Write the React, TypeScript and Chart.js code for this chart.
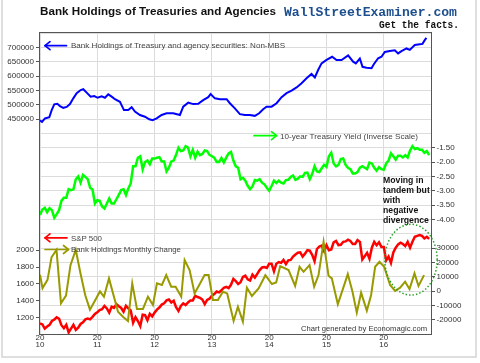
import React, { useEffect, useRef } from 'react';
import { Chart, registerables } from 'chart.js';

Chart.register(...registerables);

// ---------------- data ----------------
// Bank holdings of Treasury and agency securities: Non-MBS (left, top panel)
const blueDates = [
  2010.0, 2010.035, 2010.087, 2010.162, 2010.204, 2010.249, 2010.302, 2010.349, 2010.406, 2010.466,
  2010.523, 2010.581, 2010.64, 2010.71, 2010.755, 2010.815, 2010.884, 2010.947, 2011.006, 2011.076,
  2011.134, 2011.191, 2011.251, 2011.308, 2011.395, 2011.465, 2011.54, 2011.6, 2011.657, 2011.744,
  2011.832, 2011.907, 2011.966, 2012.036, 2012.123, 2012.21, 2012.325, 2012.442, 2012.5, 2012.587,
  2012.674, 2012.761, 2012.848, 2012.936, 2012.978, 2013.053, 2013.14, 2013.257, 2013.314, 2013.401,
  2013.489, 2013.576, 2013.663, 2013.75, 2013.825, 2013.895, 2013.954, 2014.042, 2014.129, 2014.216,
  2014.303, 2014.39, 2014.478, 2014.565, 2014.652, 2014.739, 2014.797, 2014.854, 2014.914, 2015.001,
  2015.099, 2015.175, 2015.263, 2015.378, 2015.465, 2015.512, 2015.582, 2015.629, 2015.699, 2015.786,
  2015.826, 2015.901, 2015.96, 2016.018, 2016.105, 2016.192, 2016.25, 2016.309, 2016.396, 2016.454,
  2016.541, 2016.628, 2016.675, 2016.715, 2016.744,
];
const blueValues = [
  445000, 440000, 452000, 456000, 481000, 501000, 503000, 495000, 489000, 492000,
  502000, 522000, 540000, 551000, 554000, 542000, 528000, 530000, 524000, 529000,
  524000, 536000, 528000, 519000, 510000, 481000, 481000, 491000, 476000, 464000,
  458000, 449000, 446000, 452000, 464000, 470000, 470000, 464000, 493000, 507000,
  502000, 503000, 516000, 526000, 537000, 522000, 519000, 519000, 505000, 487000,
  467000, 464000, 464000, 461000, 470000, 484000, 493000, 493000, 505000, 526000,
  540000, 549000, 560000, 575000, 592000, 607000, 595000, 621000, 644000, 656000,
  667000, 656000, 656000, 672000, 650000, 644000, 661000, 632000, 629000, 627000,
  641000, 662000, 667000, 684000, 687000, 690000, 679000, 687000, 696000, 691000,
  708000, 711000, 712000, 725000, 733000,
];

// 10-year Treasury yield, semi-monthly from Jan 2010 (plotted inverted)
const yield2010 = [3.85, 3.66, 3.6, 3.75, 3.61, 3.68, 3.95, 3.82, 3.68, 3.35, 3.25, 3.25, 2.95, 2.98, 2.95, 2.6, 2.5, 2.72, 2.45, 2.52, 2.6, 2.9, 2.96, 3.45];
const yield2011 = [3.33, 3.35, 3.55, 3.62, 3.45, 3.27, 3.45, 3.45, 3.3, 3.15, 2.98, 2.95, 3.15, 2.92, 2.75, 2.15, 2.15, 1.85, 1.8, 2.25, 2.0, 1.95, 2.08, 1.88];
const yield2012 = [1.88, 1.85, 1.83, 1.98, 1.98, 2.33, 2.2, 1.98, 1.95, 1.75, 1.5, 1.62, 1.6, 1.45, 1.5, 1.8, 1.58, 1.85, 1.64, 1.76, 1.72, 1.6, 1.62, 1.75];
const yield2013 = [1.8, 1.85, 2.0, 2.0, 1.86, 2.02, 1.85, 1.7, 1.65, 1.95, 2.15, 2.2, 2.6, 2.55, 2.65, 2.83, 2.95, 2.85, 2.63, 2.65, 2.6, 2.72, 2.78, 2.9];
const yield2014 = [3.0, 2.84, 2.65, 2.73, 2.65, 2.72, 2.75, 2.63, 2.62, 2.52, 2.47, 2.62, 2.58, 2.5, 2.52, 2.38, 2.37, 2.6, 2.42, 2.15, 2.33, 2.35, 2.22, 2.1];
const yield2015 = [2.17, 1.8, 1.68, 2.05, 2.15, 2.1, 1.9, 1.88, 2.1, 2.2, 2.25, 2.4, 2.4, 2.35, 2.2, 2.15, 2.2, 2.25, 2.02, 2.05, 2.2, 2.3, 2.18, 2.25];
const yield2016 = [2.27, 2.05, 1.95, 1.7, 1.8, 1.92, 1.78, 1.78, 1.84, 1.76, 1.84, 1.6, 1.45, 1.55, 1.52, 1.57, 1.57, 1.68, 1.62, 1.76];

// S&P 500, semi-monthly from Jan 2010
const spx2010 = [1133, 1120, 1070, 1095, 1115, 1160, 1178, 1205, 1187, 1110, 1075, 1115, 1025, 1070, 1115, 1055, 1080, 1125, 1145, 1180, 1190, 1180, 1210, 1243];
const spx2011 = [1265, 1290, 1300, 1340, 1310, 1260, 1330, 1315, 1360, 1335, 1315, 1270, 1340, 1310, 1285, 1140, 1205, 1160, 1100, 1235, 1230, 1170, 1245, 1215];
const spx2012 = [1260, 1295, 1320, 1355, 1370, 1405, 1415, 1380, 1400, 1325, 1280, 1340, 1370, 1350, 1380, 1405, 1405, 1460, 1445, 1435, 1415, 1360, 1410, 1425];
const spx2013 = [1460, 1480, 1510, 1500, 1525, 1555, 1565, 1550, 1590, 1660, 1635, 1600, 1620, 1685, 1700, 1655, 1640, 1710, 1675, 1720, 1765, 1795, 1800, 1790];
const spx2014 = [1840, 1840, 1750, 1840, 1860, 1850, 1885, 1835, 1880, 1885, 1925, 1950, 1970, 1975, 1925, 1960, 2002, 1995, 1945, 1870, 2015, 2045, 2055, 1990];
const spx2015 = [2060, 2000, 2010, 2095, 2110, 2060, 2065, 2100, 2105, 2125, 2110, 2075, 2075, 2120, 2100, 1890, 1930, 1970, 1900, 2030, 2100, 2060, 2095, 2040];
const spx2016 = [2040, 1880, 1925, 1850, 1975, 2030, 2070, 2090, 2075, 2050, 2100, 2030, 2100, 2160, 2170, 2180, 2170, 2140, 2160, 2135];

// Bank holdings monthly change (right, bottom panel)
const changeDates = [
  2010.0, 2010.044, 2010.131, 2010.201, 2010.288, 2010.366, 2010.454, 2010.532, 2010.624, 2010.708,
  2010.79, 2010.872, 2011.047, 2011.116, 2011.204, 2011.361, 2011.448, 2011.535, 2011.61, 2011.692,
  2011.797, 2011.884, 2011.971, 2012.041, 2012.128, 2012.203, 2012.29, 2012.367, 2012.465, 2012.524,
  2012.611, 2012.698, 2012.786, 2012.873, 2012.943, 2013.018, 2013.105, 2013.192, 2013.267, 2013.379,
  2013.454, 2013.541, 2013.611, 2013.698, 2013.815, 2013.933, 2014.047, 2014.122, 2014.192, 2014.338,
  2014.453, 2014.53, 2014.6, 2014.704, 2014.785, 2014.861, 2014.949, 2015.036, 2015.093, 2015.198,
  2015.372, 2015.454, 2015.529, 2015.604, 2015.704, 2015.779, 2015.849, 2015.925, 2016.006, 2016.11,
  2016.198, 2016.285, 2016.372, 2016.449, 2016.536, 2016.606, 2016.703,
];
const changeValues = [
  11300, 2000, 7800, 23500, 28700, -8500, -3200, 18000, 28700, 12000,
  -3000, -13000, -300, -4000, 8800, -14400, -18000, -20900, 5300, -12500,
  -12500, -4000, -9800, 5300, 4200, 11100, 3000, 3000, -4000, 21600,
  14600, -1700, 4700, 11100, 11100, -6300, -6300, -500, -1700, -20900,
  -11000, -21400, 2300, -3500, 1800, 11000, 4900, 6000, 17400, 14600,
  3500, 16900, 13400, 18100, 3000, 11100, 34400, 10700, 8800, -9300,
  11800, -500, -15100, -1200, -13700, -2800, 16900, 20400, 16900, 4200,
  0, 2300, 6500, 1400, 12300, 3500, 11100,
];

// axis ticks
const xTickYears = [2010, 2011, 2012, 2013, 2014, 2015, 2016];
const blueTicks = [450000, 500000, 550000, 600000, 650000, 700000];
const yieldTicks = [-4, -3.5, -3, -2.5, -2, -1.5];
const spxTicks = [1200, 1400, 1600, 1800, 2000];
const changeTicks = [-20000, -10000, 0, 10000, 20000, 30000];

// ---------------- styling ----------------
const FONT = "'Liberation Sans', Arial, sans-serif";
const GRID = '#dcdcdc';
const AXIS = '#555555';
const TXT = '#333333';

const gridSteps: number[] = [];
for (let v = -300000; v <= 750000; v += 50000) gridSteps.push(v);

const seriesFrom = (years: number[][], sign: number) => {
  const all = ([] as number[]).concat(...years);
  return all.map((v, i) => ({ x: 2010 + i / 24, y: sign * v }));
};

// draws the dark frame around the plot area
const framePlugin = {
  id: 'frame',
  afterDraw(chart: any) {
    const { ctx, chartArea: a } = chart;
    ctx.save();
    ctx.strokeStyle = AXIS;
    ctx.lineWidth = 1;
    ctx.strokeRect(a.left - 0.5, a.top - 0.5, a.right - a.left + 1, a.bottom - a.top + 1);
    ctx.restore();
  },
};

// the secondary axes share the outer margins with the primary ones:
// widen their label area so the labels are not clipped
const sharedAxisPlugin = {
  id: 'sharedAxis',
  afterLayout(chart: any) {
    const s = chart.scales.yS;
    if (s) { s.left = 0; s.width = s.right - s.left; }
    const o = chart.scales.yO;
    if (o) { o.right = chart.width; o.width = o.right - o.left; }
  },
};

function Arrow({ x1, x2, y, color, head }: { x1: number; x2: number; y: number; color: string; head: 'left' | 'right' }) {
  const hx = head === 'left' ? x1 : x2;
  const d = head === 'left' ? 5 : -5;
  return (
    <g stroke={color} strokeWidth={1.7} fill="none" strokeLinecap="round" strokeLinejoin="round">
      <line x1={x1} y1={y} x2={x2} y2={y} />
      <polyline points={`${hx + d},${y - 4} ${hx},${y} ${hx + d},${y + 4}`} />
    </g>
  );
}

export default function App() {
  const ref = useRef<HTMLCanvasElement>(null);

  useEffect(() => {
    const tickFont = { family: FONT, size: 8 };
    const chart = new Chart(ref.current as HTMLCanvasElement, {
      type: 'line',
      data: {
        datasets: [
          {
            label: 'Bank Holdings Monthly Change',
            data: changeDates.map((d, i) => ({ x: d, y: changeValues[i] })),
            yAxisID: 'yO',
            borderColor: '#999900',
            borderWidth: 2,
            pointRadius: 0,
          },
          {
            label: 'S&P 500',
            data: seriesFrom([spx2010, spx2011, spx2012, spx2013, spx2014, spx2015, spx2016], 1),
            yAxisID: 'yS',
            borderColor: '#ff0000',
            borderWidth: 2.5,
            pointRadius: 0,
          },
          {
            label: '10-year Treasury Yield (Inverse Scale)',
            data: seriesFrom([yield2010, yield2011, yield2012, yield2013, yield2014, yield2015, yield2016], -1),
            yAxisID: 'yG',
            borderColor: '#00ff00',
            borderWidth: 2.5,
            pointRadius: 0,
          },
          {
            label: 'Bank Holdings of Treasury and agency securities: Non-MBS',
            data: blueDates.map((d, i) => ({ x: d, y: blueValues[i] })),
            yAxisID: 'yB',
            borderColor: '#0000ff',
            borderWidth: 2,
            pointRadius: 0,
          },
        ],
      },
      options: {
        responsive: false,
        maintainAspectRatio: false,
        animation: false,
        devicePixelRatio: 1,
        events: [],
        layout: { padding: { top: 33, left: 0, right: 0, bottom: 0 } },
        plugins: { legend: { display: false }, tooltip: { enabled: false }, title: { display: false } },
        scales: {
          x: {
            type: 'linear',
            min: 2010,
            max: 2016.824,
            afterBuildTicks: (s: any) => { s.ticks = xTickYears.map((v) => ({ value: v })); },
            afterFit: (s: any) => { s.height = 29; },
            ticks: {
              autoSkip: false,
              maxRotation: 0,
              padding: 0,
              color: TXT,
              font: { family: FONT, size: 8, lineHeight: 0.9 },
              callback: (v: any) => ['20', String(v).slice(2)],
            },
            grid: { color: GRID, drawTicks: false },
            border: { display: false },
          },
          yB: {
            type: 'linear',
            position: 'left',
            weight: 2,
            min: -300000,
            max: 750000,
            afterBuildTicks: (s: any) => { s.ticks = gridSteps.map((v) => ({ value: v })); },
            afterFit: (s: any) => { s.width = 40; },
            ticks: {
              autoSkip: false,
              padding: 2,
              color: TXT,
              font: tickFont,
              callback: (v: any) => (blueTicks.includes(v) ? String(v) : ''),
            },
            grid: {
              color: GRID,
              tickLength: 4,
              tickColor: (ctx: any) => (ctx.tick && blueTicks.includes(ctx.tick.value) ? AXIS : 'rgba(0,0,0,0)'),
            },
            border: { display: false },
          },
          yS: {
            type: 'linear',
            position: 'left',
            weight: 1,
            min: 1006,
            max: 4579,
            afterBuildTicks: (s: any) => { s.ticks = spxTicks.map((v) => ({ value: v })); },
            afterFit: (s: any) => { s.width = 0; },
            ticks: { autoSkip: false, padding: 2, color: TXT, font: tickFont, callback: (v: any) => String(v) },
            grid: { drawOnChartArea: false, tickLength: 4, tickColor: AXIS },
            border: { display: false },
          },
          yG: {
            type: 'linear',
            position: 'right',
            weight: 2,
            min: -8,
            max: 2.5,
            afterBuildTicks: (s: any) => { s.ticks = yieldTicks.map((v) => ({ value: v })); },
            afterFit: (s: any) => { s.width = 49; },
            ticks: { autoSkip: false, padding: 1.5, color: TXT, font: tickFont, callback: (v: any) => Number(v).toFixed(2) },
            grid: { drawOnChartArea: false, tickLength: 4, tickColor: AXIS },
            border: { display: false },
          },
          yO: {
            type: 'linear',
            position: 'right',
            weight: 1,
            min: -30000,
            max: 180000,
            afterBuildTicks: (s: any) => { s.ticks = changeTicks.map((v) => ({ value: v })); },
            afterFit: (s: any) => { s.width = 0; },
            ticks: { autoSkip: false, padding: 1.5, color: TXT, font: tickFont, callback: (v: any) => String(v) },
            grid: { drawOnChartArea: false, tickLength: 4, tickColor: AXIS },
            border: { display: false },
          },
        },
      } as any,
      plugins: [sharedAxisPlugin, framePlugin],
    });
    return () => chart.destroy();
  }, []);

  return (
    <div style={{ position: 'absolute', left: 0, top: 0, width: 480, height: 363, background: '#fff', overflow: 'hidden' }}>
      <canvas ref={ref} width={480} height={363} style={{ display: 'block', width: 480, height: 363 }} />
      <svg
        width={480}
        height={363}
        style={{ position: 'absolute', left: 0, top: 0, pointerEvents: 'none' }}
        fontFamily={FONT}
      >
        <rect x={2} y={-4} width={474} height={361} fill="none" stroke="#d4d4d4" strokeWidth={1.5} />
        <text x={40} y={15} fontSize={11} fontWeight="bold" fill="#111" textLength={236} lengthAdjust="spacingAndGlyphs">
          Bank Holdings of Treasuries and Agencies
        </text>
        <text x={284} y={16} fontFamily="'Liberation Mono', monospace" fontWeight="bold" fontSize={13} fill="#1d4f8e" textLength={173} lengthAdjust="spacingAndGlyphs">
          WallStreetExaminer.com
        </text>
        <text x={379} y={27.5} fontFamily="'Liberation Mono', monospace" fontWeight="bold" fontSize={10} fill="#111" textLength={80} lengthAdjust="spacingAndGlyphs">
          Get the facts.
        </text>

        <Arrow x1={45} x2={66.5} y={45.7} color="#0000ff" head="left" />
        <text x={71} y={47.5} fontSize={8} fill="#444" textLength={214} lengthAdjust="spacingAndGlyphs">
          Bank Holdings of Treasury and agency securities: Non-MBS
        </text>

        <Arrow x1={254} x2={276.5} y={135.7} color="#00ff00" head="right" />
        <text x={280} y={138.5} fontSize={8} fill="#444" textLength={138} lengthAdjust="spacingAndGlyphs">
          10-year Treasury Yield (Inverse Scale)
        </text>

        <Arrow x1={45} x2={67} y={237.8} color="#ff0000" head="left" />
        <text x={71} y={240.8} fontSize={8} fill="#444" textLength={31} lengthAdjust="spacingAndGlyphs">
          S&amp;P 500
        </text>

        <Arrow x1={45} x2={68.5} y={249.5} color="#999900" head="right" />
        <text x={71} y={251.8} fontSize={8} fill="#444" textLength={110} lengthAdjust="spacingAndGlyphs">
          Bank Holdings Monthly Change
        </text>

        <text x={301} y={330.5} fontSize={8} fill="#333" textLength={126} lengthAdjust="spacingAndGlyphs">
          Chart generated by Economagic.com
        </text>

        <g fontSize={8.7} fontWeight="bold" fill="#111">
          <text x={383} y={183.3}>Moving in</text>
          <text x={383} y={193.2}>tandem but</text>
          <text x={383} y={203}>with</text>
          <text x={383} y={212.8}>negative</text>
          <text x={383} y={222.5}>divergence</text>
        </g>

        <ellipse cx={411} cy={259.7} rx={26.2} ry={35.4} fill="none" stroke="#2ca02c" strokeWidth={1.5} strokeDasharray="1.5 2" />
      </svg>
    </div>
  );
}
